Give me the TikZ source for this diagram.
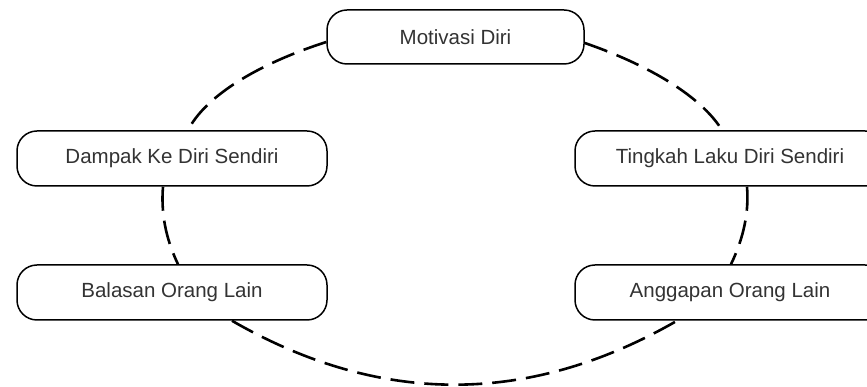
\documentclass[tikz,border=0pt]{standalone}
\usepackage{fontspec}
\setmainfont{Liberation Sans}
\usepackage{tikz}

\begin{document}
\begin{tikzpicture}[x=1pt, y=1pt,
        box/.style={draw, line width=1.5pt, rounded corners=20pt, fill=white,
            minimum width=310pt, minimum height=55pt, inner sep=0pt,
            text=black!80, font=\fontsize{20.5}{24}\selectfont},
        link/.style={line width=2.6pt, dash pattern=on 24pt off 10pt}]
        % Fix the canvas
        \useasboundingbox (0,0) rectangle (867,387);
        \clip (0,0) rectangle (867,387);
        % Draw the boxes
        \node[box, minimum width=257pt, minimum height=54pt] (motivasi) at (455.5,350) {Motivasi Diri};
        \node[box] (dampak) at (172,228.5) {Dampak Ke Diri Sendiri};
        \node[box] (tingkah) at (730,228.5) {Tingkah Laku Diri Sendiri};
        \node[box] (balasan) at (172,94.5) {Balasan Orang Lain};
        \node[box] (anggapan) at (730,94.5) {Anggapan Orang Lain};
        % Draw the dashed links round the cycle
        \draw[link] ([yshift=-5pt]motivasi.west) .. controls (255,322) and (205,290) .. ([xshift=16pt]dampak.north);
        \draw[link] ([yshift=-6pt]motivasi.east) .. controls (660,318) and (705,285) .. ([xshift=-8pt]tingkah.north);
        \draw[link] ([xshift=-9pt]dampak.south) .. controls (161,175) and (165,150) .. ([xshift=6pt]balasan.north);
        \draw[link] ([xshift=17pt]tingkah.south) .. controls (749,175) and (744,150) .. ([xshift=1pt]anggapan.north);
        \draw[link] ([xshift=60pt]balasan.south) .. controls (380,-19) and (529,-19) .. ([xshift=-53pt]anggapan.south);
    \end{tikzpicture}
\end{document}
